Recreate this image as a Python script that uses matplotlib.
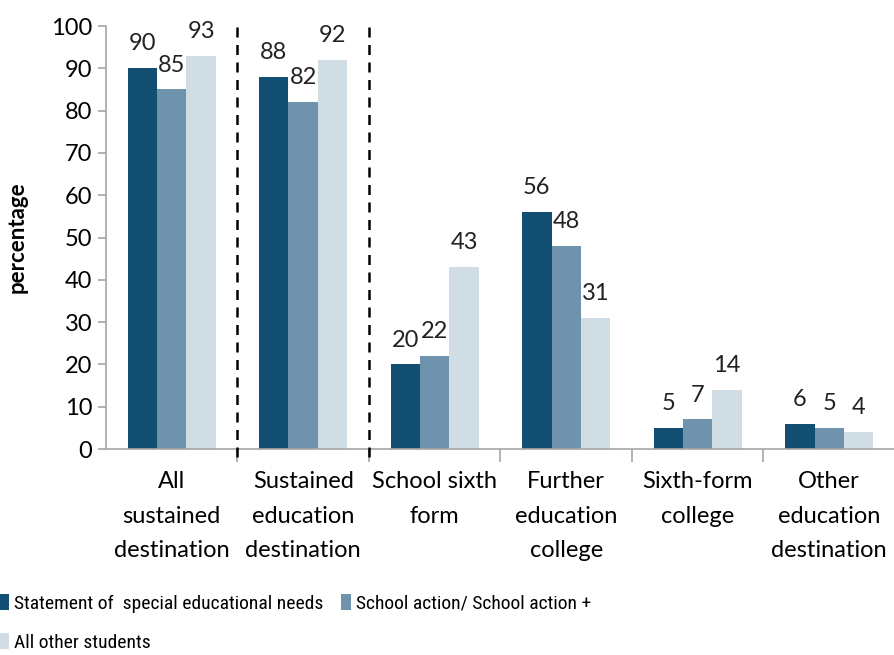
import numpy as np
import matplotlib.pyplot as plt
from matplotlib.lines import Line2D
from matplotlib import font_manager

plt.rcParams['font.family'] = ['Lato', 'DejaVu Sans']

categories = ['All\nsustained\ndestination', 'Sustained\neducation\ndestination',
              'School sixth\nform', 'Further\neducation\ncollege',
              'Sixth-form\ncollege', 'Other\neducation\ndestination']
series_names = ['Statement of  special educational needs',
                'School action/ School action +',
                'All other students']
sen_statement = [90, 88, 20, 56, 5, 6]
school_action = [85, 82, 22, 48, 7, 5]
other_students = [93, 92, 43, 31, 14, 4]
colors = ['#134f73', '#6f93ad', '#d0dde5']

# narrow face for the legend, first one that is installed
names = {f.name for f in font_manager.fontManager.ttflist}
legend_family = next((n for n in ['Roboto Condensed', 'Open Sans Condensed',
                                  'Asap Condensed', 'Archivo Narrow']
                      if n in names), 'Lato')

fig = plt.figure(figsize=(8.95, 6.55), dpi=100)
ax = fig.add_axes([0.1184, 0.3145, 0.8816, 0.6458])

x = np.arange(len(categories))
width = 0.224
handles = []
for i, (vals, col, name) in enumerate(zip([sen_statement, school_action, other_students],
                                          colors, series_names)):
    bars = ax.bar(x + (i - 1) * width, vals, width, color=col, label=name)
    handles.append(bars)
    for b, v in zip(bars, vals):
        ax.annotate(str(v), (b.get_x() + b.get_width() / 2, v),
                    xytext=(0, 10), textcoords='offset points',
                    ha='center', va='bottom', fontsize=17, color='#222222')

ax.set_xlim(-0.5, len(categories) - 0.5)
ax.set_ylim(0, 100)
ax.set_yticks(range(0, 101, 10))
ax.set_xticks(x)
ax.set_xticklabels(categories, fontsize=17, linespacing=1.8)
ax.tick_params(axis='x', length=0, pad=16)
ax.set_xticks(np.arange(0.5, len(categories) - 0.5), minor=True)
ax.tick_params(axis='x', which='minor', length=9, color='#a6a6a6', width=1.2)
ax.tick_params(axis='y', labelsize=17, length=6, color='#a6a6a6', width=1.2, pad=4)

for side in ['top', 'right']:
    ax.spines[side].set_visible(False)
for side in ['left', 'bottom']:
    ax.spines[side].set_color('#a6a6a6')
    ax.spines[side].set_linewidth(1.2)

ax.set_ylabel('percentage', fontsize=16, fontweight='bold', labelpad=17)

# dashed separators after the two headline groups
for xb in [0.5, 1.5]:
    ax.add_line(Line2D([xb, xb], [-1.9, 101.5], color='black', lw=1.8,
                       ls=(0, (4, 3)), clip_on=False, zorder=5))

order = [0, 2, 1]
fig.legend([handles[i] for i in order], [series_names[i] for i in order],
           ncol=2, loc='lower left', bbox_to_anchor=(-0.02, -0.022),
           frameon=False, prop={'family': legend_family, 'size': 14},
           handlelength=0.5, handleheight=0.9,
           handletextpad=0.25, columnspacing=0.9, labelspacing=1.05)

fig.savefig('out.png', dpi=100)
